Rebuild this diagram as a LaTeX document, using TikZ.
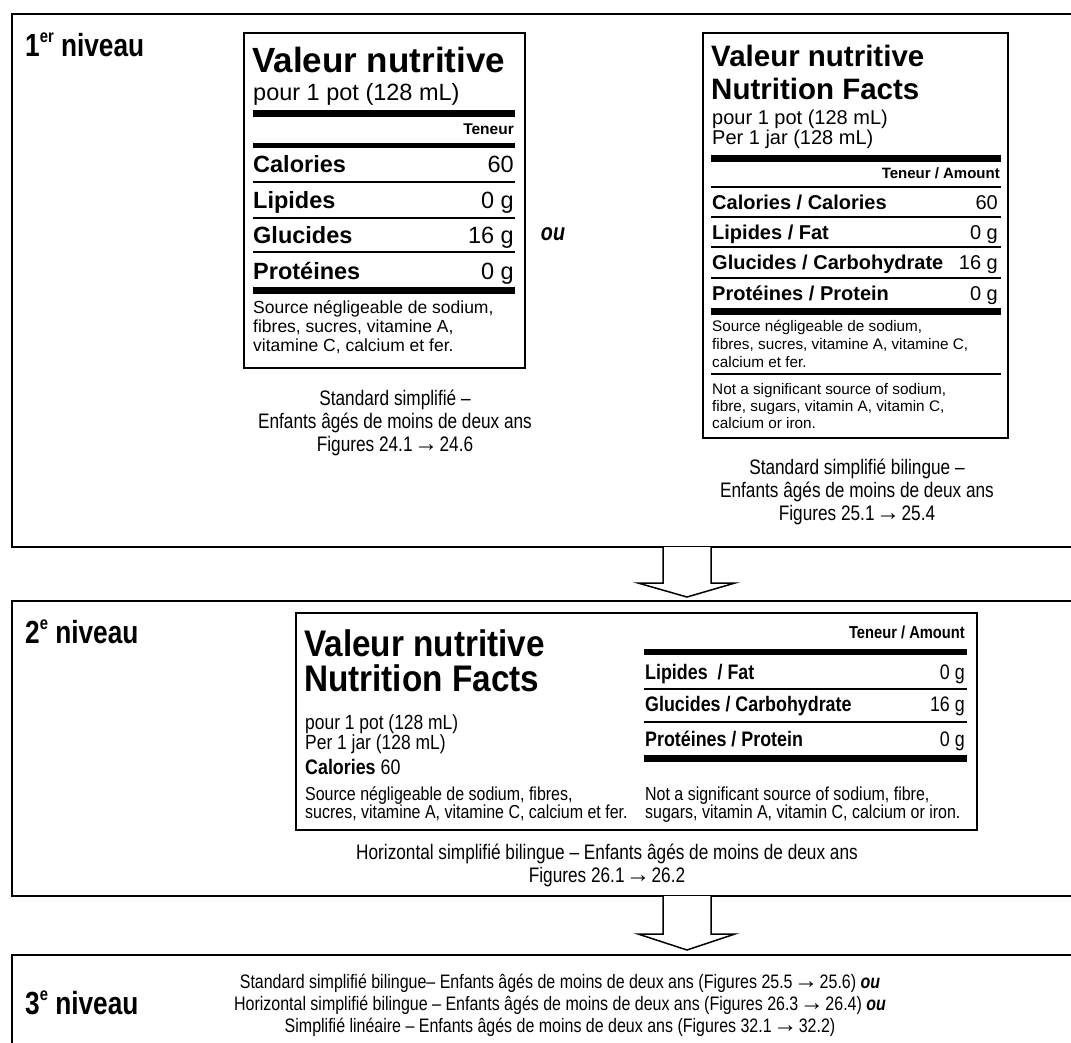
\documentclass[tikz,border=0pt]{standalone}
\usepackage{fontspec}
\setmainfont{Liberation Sans}
\newfontfamily\narrowf[FakeStretch=0.82]{Liberation Sans}
\newfontfamily\condf[FakeStretch=0.85]{Liberation Sans}
\newfontfamily\condt[FakeStretch=0.9]{Liberation Sans}
\usetikzlibrary{calc}
\newcommand\fs[1]{\fontsize{#1}{#1}\selectfont}
\newcommand\arr{\hspace{1.5pt}{\rmfamily\fontsize{24}{20}\selectfont →}\hspace{1.5pt}}
\begin{document}
\begin{tikzpicture}[x=1pt,y=-1pt,
  panelbox/.style={draw,line width=2.5pt},
  lblbox/.style={draw,line width=2.2pt},
  bl/.style={anchor=base west,inner sep=0pt},
  br/.style={anchor=base east,inner sep=0pt},
  bc/.style={anchor=base,inner sep=0pt},
  fatrule/.style={line width=7pt},
  midrule/.style={line width=5pt},
  thinrule/.style={line width=2.5pt},
  hairrule/.style={line width=2pt},
  blockarrow/.style={draw,fill=white,line width=1.5pt,line join=miter},
  level/.style={bl,font=\narrowf\bfseries\fs{32}},
  caption/.style={bc,font=\narrowf\fs{21}},
  lev3/.style={bc,font=\narrowf\fs{19.5}},
]
\useasboundingbox (0,0) rectangle (1071,1042);
\clip (0,0) rectangle (1071,1042);
\fill[white] (0,0) rectangle (1071,1042);

% ---------- panels ----------
\draw[panelbox] (12,14) rectangle (1090,547);
\draw[panelbox] (12,601) rectangle (1090,896);
\draw[panelbox] (12,955) rectangle (1090,1100);

\node[level] (lev1) at (25,56) {1\raisebox{0.42em}{\fs{18}er} niveau};
\node[level] (lev2) at (25,643) {2\raisebox{0.42em}{\fs{18}e} niveau};
\node[level] (lev3) at (25,1014) {3\raisebox{0.42em}{\fs{18}e} niveau};

% ---------- label A (level 1, left) ----------
\draw[lblbox] (244,33) rectangle (525,368);
\node[bl,font=\bfseries\fs{35}] (a-title) at (252,72) {Valeur nutritive};
\node[bl,font=\fs{23.5}] (a-serv) at (253,100) {pour 1 pot (128 mL)};
\draw[fatrule] (253,113) -- (515,113);
\node[br,font=\bfseries\fs{15.5}] (a-ten) at (514,134) {Teneur};
\draw[midrule] (253,145) -- (515,145);
\node[bl,font=\bfseries\fs{23.5}] (a-cal) at (253,172) {Calories};
\node[br,font=\fs{23.5}] (a-calv) at (514,172) {60};
\draw[thinrule] (253,182) -- (515,182);
\node[bl,font=\bfseries\fs{23.5}] (a-lip) at (253,208) {Lipides};
\node[br,font=\fs{23.5}] (a-lipv) at (514,208) {0 g};
\draw[thinrule] (253,218) -- (515,218);
\node[bl,font=\bfseries\fs{23.5}] (a-glu) at (253,243) {Glucides};
\node[br,font=\fs{23.5}] (a-gluv) at (514,243) {16 g};
\draw[thinrule] (253,252) -- (515,252);
\node[bl,font=\bfseries\fs{23.5}] (a-pro) at (253,279) {Protéines};
\node[br,font=\fs{23.5}] (a-prov) at (514,279) {0 g};
\draw[fatrule] (253,290) -- (515,290);
\node[bl,font=\fs{17.5}] (a-src1) at (253,313) {Source négligeable de sodium,};
\node[bl,font=\fs{17.5}] (a-src2) at (253,332) {fibres, sucres, vitamine A,};
\node[bl,font=\fs{17.5}] (a-src3) at (253,351) {vitamine C, calcium et fer.};

\node[caption] (a-cap1) at (395,405) {Standard simplifié –};
\node[caption] (a-cap2) at (395,428) {Enfants âgés de moins de deux ans};
\node[caption] (a-cap3) at (395,451) {Figures 24.1\arr 24.6};

\node[bc,font=\narrowf\bfseries\itshape\fs{24}] (ou1) at (553,240) {ou};

% ---------- label B (level 1, right) ----------
\draw[lblbox] (703,33) rectangle (1008,438);
\node[bl,font=\bfseries\fs{29.5}] (b-t1) at (711,66) {Valeur nutritive};
\node[bl,font=\bfseries\fs{29.5}] (b-t2) at (711,99) {Nutrition Facts};
\node[bl,font=\fs{20}] (b-s1) at (712,124) {pour 1 pot (128 mL)};
\node[bl,font=\fs{20}] (b-s2) at (712,144) {Per 1 jar (128 mL)};
\draw[fatrule] (711,158) -- (1001,158);
\node[br,font=\bfseries\fs{15}] (b-ten) at (1000,178.5) {Teneur / Amount};
\draw[thinrule] (711,187) -- (1001,187);
\node[bl,font=\bfseries\fs{20}] (b-cal) at (712,209) {Calories / Calories};
\node[br,font=\fs{20}] (b-calv) at (998,209) {60};
\draw[thinrule] (711,217) -- (1001,217);
\node[bl,font=\bfseries\fs{20}] (b-lip) at (712,239) {Lipides / Fat};
\node[br,font=\fs{20}] (b-lipv) at (998,239) {0 g};
\draw[thinrule] (711,247) -- (1001,247);
\node[bl,font=\bfseries\fs{20}] (b-glu) at (712,269) {Glucides / Carbohydrate};
\node[br,font=\fs{20}] (b-gluv) at (998,269) {16 g};
\draw[thinrule] (711,278) -- (1001,278);
\node[bl,font=\bfseries\fs{20}] (b-pro) at (712,300) {Protéines / Protein};
\node[br,font=\fs{20}] (b-prov) at (998,300) {0 g};
\draw[fatrule] (711,311) -- (1001,311);
\node[bl,font=\fs{15.3}] (b-src1) at (712,331) {Source négligeable de sodium,};
\node[bl,font=\fs{15.3}] (b-src2) at (712,349) {fibres, sucres, vitamine A, vitamine C,};
\node[bl,font=\fs{15.3}] (b-src3) at (712,367) {calcium et fer.};
\draw[hairrule] (711,374) -- (1001,374);
\node[bl,font=\fs{15.3}] (b-not1) at (712,394) {Not a significant source of sodium,};
\node[bl,font=\fs{15.3}] (b-not2) at (712,411) {fibre, sugars, vitamin A, vitamin C,};
\node[bl,font=\fs{15.3}] (b-not3) at (712,428) {calcium or iron.};

\node[caption] (b-cap1) at (857,474) {Standard simplifié bilingue –};
\node[caption] (b-cap2) at (857,497) {Enfants âgés de moins de deux ans};
\node[caption] (b-cap3) at (857,520) {Figures 25.1\arr 25.4};

% ---------- label C (level 2, horizontal) ----------
\draw[lblbox] (296,613) rectangle (977,830);
\node[bl,font=\condt\bfseries\fs{37}] (c-t1) at (304,656) {Valeur nutritive};
\node[bl,font=\condt\bfseries\fs{37}] (c-t2) at (304,691) {Nutrition Facts};
\node[bl,font=\condf\fs{20.5}] (c-s1) at (305,729) {pour 1 pot (128 mL)};
\node[bl,font=\condf\fs{20.5}] (c-s2) at (305,749) {Per 1 jar (128 mL)};
\node[bl,font=\condf\fs{21}] (c-cal) at (305,774) {\textbf{Calories} 60};
\node[bl,font=\condf\fs{18.8}] (c-src1) at (305,800) {Source négligeable de sodium, fibres,};
\node[bl,font=\condf\fs{18.8}] (c-src2) at (305,818) {sucres, vitamine A, vitamine C, calcium et fer.};
\node[br,font=\condf\bfseries\fs{17.3}] (c-ten) at (965,638) {Teneur / Amount};
\draw[line width=6pt] (644,652) -- (967,652);
\node[bl,font=\condf\bfseries\fs{21}] (c-lip) at (645,679) {Lipides\ \ / Fat};
\node[br,font=\condf\fs{21}] (c-lipv) at (965,679) {0 g};
\draw[hairrule] (644,689) -- (967,689);
\node[bl,font=\condf\bfseries\fs{21}] (c-glu) at (645,711) {Glucides / Carbohydrate};
\node[br,font=\condf\fs{21}] (c-gluv) at (965,711) {16 g};
\draw[hairrule] (644,722) -- (967,722);
\node[bl,font=\condf\bfseries\fs{21}] (c-pro) at (645,746) {Protéines / Protein};
\node[br,font=\condf\fs{21}] (c-prov) at (965,746) {0 g};
\draw[fatrule] (644,758) -- (967,758);
\node[bl,font=\condf\fs{18.8}] (c-not1) at (645,800) {Not a significant source of sodium, fibre,};
\node[bl,font=\condf\fs{18.8}] (c-not2) at (645,818) {sugars, vitamin A, vitamin C, calcium or iron.};

\node[caption] (c-cap1) at (607,859) {Horizontal simplifié bilingue – Enfants âgés de moins de deux ans};
\node[caption] (c-cap2) at (607,882) {Figures 26.1\arr 26.2};

% ---------- level 3 text ----------
\node[lev3] (d-l1) at (560,988) {Standard simplifié bilingue– Enfants âgés de moins de deux ans (Figures 25.5\arr 25.6) \textbf{\textit{ou}}};
\node[lev3] (d-l2) at (560,1010) {Horizontal simplifié bilingue – Enfants âgés de moins de deux ans (Figures 26.3\arr 26.4) \textbf{\textit{ou}}};
\node[lev3] (d-l3) at (560,1032) {Simplifié linéaire – Enfants âgés de moins de deux ans (Figures 32.1\arr 32.2)};

% ---------- block arrows ----------
\coordinate (A1top) at (687,547);
\coordinate (A1tip) at (687,597);
\draw[blockarrow] ($(A1top)+(-24,0)$) -- ($(A1top)+(-24,36)$) -- ($(A1top)+(-49,36)$)
  -- (A1tip) -- ($(A1top)+(48,36)$) -- ($(A1top)+(24,36)$) -- ($(A1top)+(24,0)$);
\coordinate (A2top) at (687,896);
\coordinate (A2tip) at (687,950);
\draw[blockarrow] ($(A2top)+(-24,0)$) -- ($(A2top)+(-24,38)$) -- ($(A2top)+(-49,38)$)
  -- (A2tip) -- ($(A2top)+(48,38)$) -- ($(A2top)+(24,38)$) -- ($(A2top)+(24,0)$);
\end{tikzpicture}
\end{document}
